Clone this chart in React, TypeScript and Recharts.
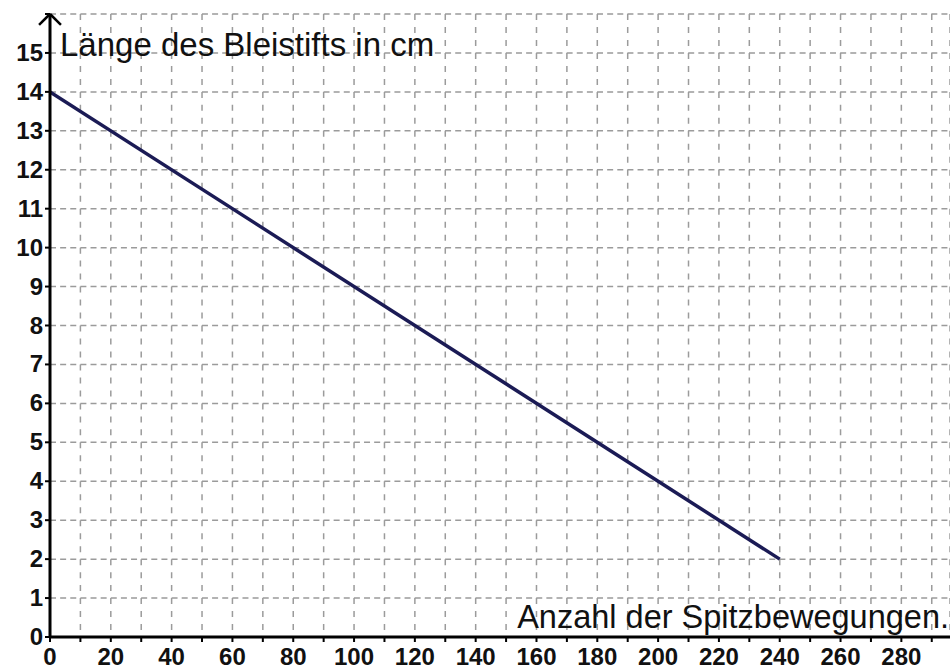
import React from 'react';
import { LineChart, Line, XAxis, YAxis, CartesianGrid, ReferenceLine, Label } from 'recharts';

// values
const strokes = [0, 240];
const lengthCm = [14, 2];

const xTicks = [0, 10, 20, 30, 40, 50, 60, 70, 80, 90, 100, 110, 120, 130, 140, 150, 160, 170, 180, 190, 200, 210, 220, 230, 240, 250, 260, 270, 280, 290];
const xLabelled = [0, 20, 40, 60, 80, 100, 120, 140, 160, 180, 200, 220, 240, 260, 280];
const yTicks = [0, 1, 2, 3, 4, 5, 6, 7, 8, 9, 10, 11, 12, 13, 14, 15, 16];
const yLabelled = [0, 1, 2, 3, 4, 5, 6, 7, 8, 9, 10, 11, 12, 13, 14, 15];

const xTitle = 'Anzahl der Spitzbewegungen.';
const yTitle = 'Länge des Bleistifts in cm';

const data = strokes.map((x, i) => ({ x, len: lengthCm[i] }));

const FONT = '"Liberation Sans", Arial, sans-serif';
const GRID = '#9b9b9b';

const XTick = (props: any) => {
    const { x, y, payload } = props;
    if (!xLabelled.includes(payload.value)) return <g />;
    return (
        <text x={x} y={y + 21} textAnchor="middle" fontFamily={FONT} fontWeight="bold" fontSize={24} fill="#111">
            {payload.value}
        </text>
    );
};

const YTick = (props: any) => {
    const { x, y, payload } = props;
    if (!yLabelled.includes(payload.value)) return <g />;
    return (
        <text x={x} y={y + 8} textAnchor="end" fontFamily={FONT} fontWeight="bold" fontSize={24} fill="#111">
            {payload.value}
        </text>
    );
};

const App: React.FC = () => {
    return (
        <div style={{ position: 'absolute', left: 0, top: 0, background: '#fff' }}>
            <LineChart width={950} height={670} data={data} margin={{ top: 14, right: 0, bottom: 0, left: 0 }}>
                <CartesianGrid horizontal={true} vertical={false} stroke={GRID} strokeWidth={1.5} strokeDasharray="6 4.13" />
                <CartesianGrid horizontal={false} vertical={true} stroke={GRID} strokeWidth={1.5} strokeDasharray="6 6.98" />
                <XAxis
                    dataKey="x"
                    type="number"
                    domain={[0, 296]}
                    ticks={xTicks}
                    interval={0}
                    allowDataOverflow
                    height={33}
                    tickSize={5}
                    tickLine={{ stroke: '#000', strokeWidth: 2 }}
                    axisLine={{ stroke: '#000', strokeWidth: 3 }}
                    tick={<XTick />}
                >
                    <Label
                        content={(p: any) => {
                            const vb = p.viewBox;
                            return (
                                <text x={vb.x + vb.width - 1} y={vb.y - 9} textAnchor="end" fontFamily={FONT} fontSize={32.5} fill="#111">
                                    {xTitle}
                                </text>
                            );
                        }}
                    />
                </XAxis>
                <YAxis
                    type="number"
                    domain={[0, 16]}
                    ticks={yTicks}
                    interval={0}
                    allowDataOverflow
                    width={50}
                    tickSize={5}
                    tickLine={{ stroke: '#000', strokeWidth: 2 }}
                    axisLine={{ stroke: '#000', strokeWidth: 3 }}
                    tick={<YTick />}
                >
                    <Label
                        content={(p: any) => {
                            const vb = p.viewBox;
                            return (
                                <text x={vb.x + vb.width + 10} y={vb.y + 42} textAnchor="start" fontFamily={FONT} fontSize={33} fill="#111">
                                    {yTitle}
                                </text>
                            );
                        }}
                    />
                </YAxis>
                {/* arrow head on the y axis */}
                <ReferenceLine segment={[{ x: -3.6, y: 15.72 }, { x: 0, y: 16 }]} stroke="#000" strokeWidth={2.5} ifOverflow="visible" />
                <ReferenceLine segment={[{ x: 0, y: 16 }, { x: 3.6, y: 15.72 }]} stroke="#000" strokeWidth={2.5} ifOverflow="visible" />
                <Line
                    dataKey="len"
                    type="linear"
                    stroke="#1b1b55"
                    strokeWidth={3.5}
                    dot={false}
                    activeDot={false}
                    isAnimationActive={false}
                />
            </LineChart>
        </div>
    );
};

export default App;
